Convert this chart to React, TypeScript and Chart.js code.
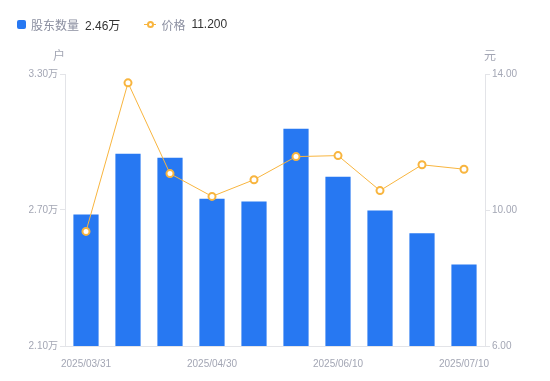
import React, { useEffect, useRef } from "react";
import { Chart, registerables } from "chart.js";
Chart.register(...registerables);

const dates = ["2025/03/31", "2025/04/10", "2025/04/20", "2025/04/30", "2025/05/20", "2025/05/30", "2025/06/10", "2025/06/20", "2025/06/30", "2025/07/10"];
const holders = [2.68, 2.948, 2.931, 2.75, 2.737, 3.058, 2.847, 2.698, 2.597, 2.46];
const prices = [9.37, 13.74, 11.07, 10.4, 10.89, 11.57, 11.6, 10.57, 11.33, 11.2];
const shownLabels = [0, 3, 6, 9];
const leftTicks = [2.1, 2.7, 3.3];
const rightTicks = [6, 10, 14];

const FONT = 'Arial, "Liberation Sans", "Noto Sans CJK SC", sans-serif';
const BLUE = "#2778F2";
const ORANGE = "#F8B53F";
const TICK = "#A3A6B4";
const LINE = "#E3E4E8";

export default function App() {
  const ref = useRef<HTMLCanvasElement>(null);
  useEffect(() => {
    document.body.style.margin = "0";
    const titles = {
      id: "axisTitles",
      afterDraw(chart: any) {
        const ctx = chart.ctx;
        ctx.save();
        ctx.font = `12px ${FONT}`;
        ctx.fillStyle = TICK;
        ctx.textAlign = "center";
        ctx.textBaseline = "middle";
        ctx.fillText("户", chart.chartArea.left - 6, 57);
        ctx.fillText("元", chart.chartArea.right + 5, 57);
        ctx.restore();
      },
    };
    const chart = new Chart(ref.current!, {
      type: "bar",
      data: {
        labels: dates,
        datasets: [
          {
            type: "line",
            label: "价格",
            data: prices,
            yAxisID: "y1",
            borderColor: ORANGE,
            borderWidth: 1,
            pointRadius: 3.5,
            pointBorderWidth: 2,
            pointBackgroundColor: "#fff",
            pointBorderColor: ORANGE,
            tension: 0,
            order: 0,
          } as any,
          {
            type: "bar",
            label: "股东数量",
            data: holders,
            yAxisID: "y",
            backgroundColor: BLUE,
            barPercentage: 0.6,
            categoryPercentage: 1,
            order: 1,
          },
        ],
      },
      plugins: [titles],
      options: {
        animation: false,
        responsive: false,
        layout: { padding: { top: 74, left: 0, right: 0, bottom: 0 } },
        plugins: { legend: { display: false }, tooltip: { enabled: false } },
        scales: {
          x: {
            grid: { display: false },
            border: { display: true, color: LINE },
            afterFit: (s: any) => { s.height = 35; },
            ticks: {
              autoSkip: false,
              maxRotation: 0,
              padding: 4,
              color: TICK,
              font: { family: FONT, size: 10 },
              callback: (_v: any, i: number) => (shownLabels.includes(i) ? dates[i] : ""),
            },
          },
          y: {
            position: "left",
            min: 2.1,
            max: 3.3,
            afterBuildTicks: (s: any) => { s.ticks = leftTicks.map((v) => ({ value: v })); },
            afterFit: (s: any) => { s.width = 65; },
            grid: { drawOnChartArea: false, drawTicks: true, tickLength: 5, color: LINE },
            border: { display: true, color: LINE },
            ticks: {
              padding: 2,
              color: TICK,
              font: { family: FONT, size: 10 },
              callback: (v: any) => Number(v).toFixed(2) + "万",
            },
          },
          y1: {
            position: "right",
            min: 6,
            max: 14,
            afterBuildTicks: (s: any) => { s.ticks = rightTicks.map((v) => ({ value: v })); },
            afterFit: (s: any) => { s.width = 65; },
            grid: { drawOnChartArea: false, drawTicks: true, tickLength: 5, color: LINE },
            border: { display: true, color: LINE },
            ticks: {
              padding: 2,
              color: TICK,
              font: { family: FONT, size: 10 },
              callback: (v: any) => Number(v).toFixed(2),
            },
          },
        },
      },
    });
    return () => chart.destroy();
  }, []);

  const lab: React.CSSProperties = { color: "#8B8FA0", fontSize: 12, fontFamily: FONT };
  const val: React.CSSProperties = { color: "#333", fontSize: 12, fontFamily: FONT };
  return (
    <div style={{ position: "relative", width: 550, height: 381, background: "#fff" }}>
      <canvas ref={ref} width={550} height={381} style={{ position: "absolute", left: 0, top: 0 }} />
      <div style={{ position: "absolute", left: 17, top: 17, height: 14, display: "flex", alignItems: "center", whiteSpace: "nowrap" }}>
        <span style={{ display: "inline-block", width: 9, height: 9, borderRadius: 2, background: BLUE, marginRight: 5 }} />
        <span style={lab}>股东数量</span>
        <span style={{ ...val, marginLeft: 6 }}>2.46万</span>
        <span style={{ position: "relative", display: "inline-block", width: 12, height: 10, marginLeft: 24, marginRight: 5 }}>
          <span style={{ position: "absolute", left: 0, top: 4.5, width: 12, height: 1, background: ORANGE }} />
          <span style={{ position: "absolute", left: 2.5, top: 1.5, width: 3, height: 3, border: `2px solid ${ORANGE}`, borderRadius: "50%", background: "#fff" }} />
        </span>
        <span style={lab}>价格</span>
        <span style={{ ...val, marginLeft: 6 }}>11.200</span>
      </div>
    </div>
  );
}
